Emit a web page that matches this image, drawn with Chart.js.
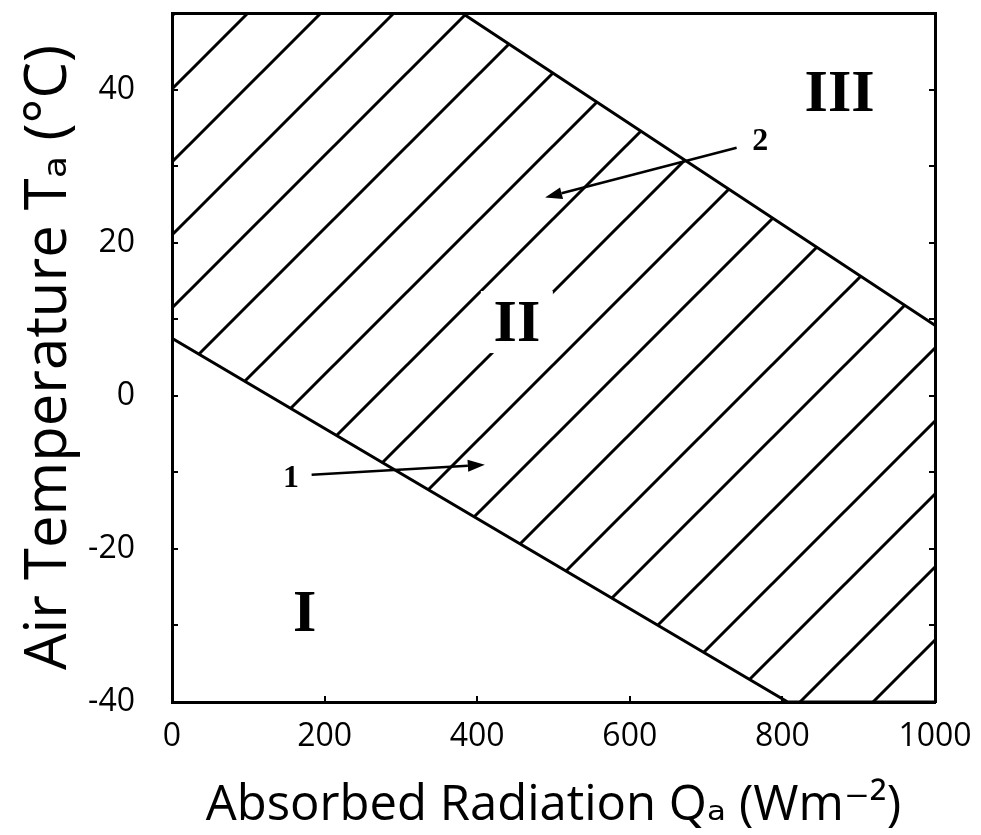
<!DOCTYPE html>
<html>
<head>
<meta charset="utf-8">
<script src="https://cdn.jsdelivr.net/npm/chart.js@4.4.0/dist/chart.umd.min.js"></script>
<style>
  html, body { margin: 0; padding: 0; background: #fff; }
  canvas { display: block; }
</style>
</head>
<body>
<canvas id="chart" width="981" height="835"></canvas>
<script>
const ctx = document.getElementById("chart");

// axis ranges and tick labels
const qRange = [0, 1000];
const tRange = [-40, 50];
const qLabels = [0, 200, 400, 600, 800, 1000];
const tLabels = [-40, -20, 0, 20, 40];

// curve 1 (lower limit) and curve 2 (upper limit)
const curve1Q = [0, 807];
const curve1T = [7.5, -40];
const curve2Q = [380, 1000];
const curve2T = [50, 9.2];

// region numerals
const regionNames = ["I", "II", "III"];
const regionQ = [174, 452, 875];
const regionT = [-28.5, 9.5, 39.5];

// curve numbers and their arrows
const curveNames = ["1", "2"];
const nameQ = [156, 771];
const nameT = [-10.7, 33.3];
const arrowFromQ = [183, 740];
const arrowFromT = [-10.3, 32.4];
const arrowToQ = [410, 489];
const arrowToT = [-9.0, 25.9];

const sans = "'Open Sans', 'DejaVu Sans', sans-serif";
const serif = "'Liberation Serif', 'DejaVu Serif', serif";

// region II is bounded by curve 2 + top edge and curve 1 + bottom edge
let upper = [{ x: qRange[0], y: tRange[1] }];
curve2Q.forEach((q, i) => upper.push({ x: q, y: curve2T[i] }));
let lower = curve1Q.map((q, i) => ({ x: q, y: curve1T[i] }));
lower.push({ x: qRange[1], y: tRange[0] });

function makeHatch(gap, width, shift) {
  const tile = document.createElement("canvas");
  tile.width = gap;
  tile.height = gap;
  const t = tile.getContext("2d");
  t.strokeStyle = "#000";
  t.lineWidth = width;
  t.beginPath();
  for (let k = 0; k <= 2 * gap; k += gap) {
    t.moveTo(k + 4, -4);
    t.lineTo(k - gap - 4, gap + 4);
  }
  t.stroke();
  const p = ctx.getContext("2d").createPattern(tile, "repeat");
  p.setTransform(new DOMMatrix().translateSelf(shift, 0));
  return p;
}

function arrow(c, x1, y1, x2, y2) {
  const a = Math.atan2(y2 - y1, x2 - x1);
  const len = 17, half = 6;
  const bx = x2 - len * Math.cos(a);
  const by = y2 - len * Math.sin(a);
  c.beginPath();
  c.moveTo(x1, y1);
  c.lineTo(bx, by);
  c.stroke();
  c.beginPath();
  c.moveTo(x2, y2);
  c.lineTo(bx + half * Math.sin(a), by - half * Math.cos(a));
  c.lineTo(bx - half * Math.sin(a), by + half * Math.cos(a));
  c.closePath();
  c.fill();
}

const notes = {
  id: "notes",
  afterDatasetsDraw(chart) {
    const c = chart.ctx;
    const xs = chart.scales.x;
    const ys = chart.scales.y;
    c.save();
    c.fillStyle = "#000";
    c.strokeStyle = "#000";
    c.lineWidth = 2.5;
    c.textAlign = "center";
    c.textBaseline = "middle";
    c.font = "bold 60px " + serif;
    regionNames.forEach((s, i) => {
      const px = xs.getPixelForValue(regionQ[i]);
      const py = ys.getPixelForValue(regionT[i]);
      if (s === "II") {
        c.fillStyle = "#fff";
        c.fillRect(px - 36, py - 32, 72, 62);
        c.fillStyle = "#000";
      }
      c.fillText(s, px, py + 2);
    });
    c.font = "bold 32px " + serif;
    curveNames.forEach((s, i) => {
      c.fillText(s, xs.getPixelForValue(nameQ[i]), ys.getPixelForValue(nameT[i]) + 1);
      arrow(c,
        xs.getPixelForValue(arrowFromQ[i]), ys.getPixelForValue(arrowFromT[i]),
        xs.getPixelForValue(arrowToQ[i]), ys.getPixelForValue(arrowToT[i]));
    });
    c.restore();
  },
};

const chart = new Chart(ctx, {
  type: "line",
  data: {
    datasets: [
      {
        label: "curve 2",
        data: upper,
        borderColor: "#000",
        borderWidth: 3,
        pointRadius: 0,
        tension: 0,
        fill: 1,
        backgroundColor: makeHatch(73, 3, 42),
      },
      {
        label: "curve 1",
        data: lower,
        borderColor: "#000",
        borderWidth: 3,
        pointRadius: 0,
        tension: 0,
        fill: false,
      },
    ],
  },
  options: {
    responsive: false,
    animation: false,
    layout: {
      padding: { top: 13, right: 46, left: 0, bottom: 0 },
    },
    plugins: {
      legend: { display: false },
      tooltip: { enabled: false },
    },
    scales: {
      x: {
        type: "linear",
        position: "bottom",
        min: qRange[0],
        max: qRange[1],
        afterFit: (s) => {
          s.height = 133;
          s.paddingLeft = 0;
          s.paddingRight = 0;
        },
        afterBuildTicks: (s) => { s.ticks = qLabels.map((v) => ({ value: v })); },
        border: { display: true, color: "#000", width: 3 },
        grid: { drawOnChartArea: false, drawTicks: true, tickLength: -6, color: "#000", lineWidth: 2 },
        ticks: {
          padding: 22,
          color: "#000",
          maxRotation: 0,
          autoSkip: false,
          font: { family: sans, size: 32 },
          callback: (v) => String(v),
        },
        title: {
          display: true,
          text: "Absorbed Radiation Qₐ (Wm⁻²)",
          color: "#000",
          font: { family: sans, size: 49 },
          padding: { top: 0, bottom: 0 },
        },
      },
      y: {
        type: "linear",
        position: "left",
        min: tRange[0],
        max: tRange[1],
        afterFit: (s) => {
          s.width = 172;
          s.paddingTop = 0;
          s.paddingBottom = 0;
        },
        border: { display: true, color: "#000", width: 3 },
        grid: { drawOnChartArea: false, drawTicks: true, tickLength: -6, color: "#000", lineWidth: 2 },
        ticks: {
          stepSize: 10,
          padding: 43,
          color: "#000",
          font: { family: sans, size: 32 },
          callback: (v) => (tLabels.includes(v) ? String(v) : ""),
        },
        title: {
          display: true,
          text: "Air Temperature Tₐ (°C)",
          color: "#000",
          font: { family: sans, size: 58 },
          padding: { top: 15, bottom: 0 },
        },
      },
      x2: {
        type: "linear",
        position: "top",
        min: qRange[0],
        max: qRange[1],
        afterFit: (s) => {
          s.height = 0;
          s.paddingLeft = 0;
          s.paddingRight = 0;
        },
        border: { display: true, color: "#000", width: 3 },
        grid: { display: false },
        ticks: { display: false },
      },
      y2: {
        type: "linear",
        position: "right",
        min: tRange[0],
        max: tRange[1],
        afterFit: (s) => {
          s.width = 0;
          s.paddingTop = 0;
          s.paddingBottom = 0;
        },
        border: { display: true, color: "#000", width: 3 },
        grid: { drawOnChartArea: false, drawTicks: true, tickLength: -6, color: "#000", lineWidth: 2 },
        ticks: { display: false, stepSize: 10 },
      },
    },
  },
  plugins: [notes],
});
</script>
</body>
</html>
